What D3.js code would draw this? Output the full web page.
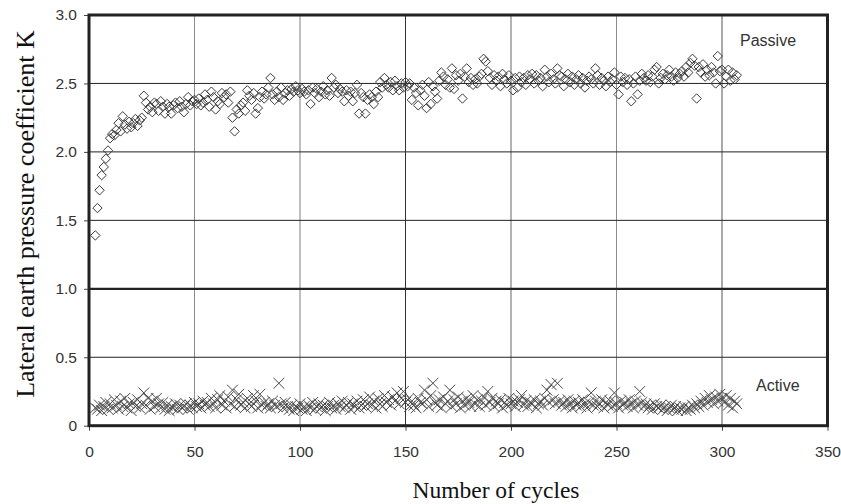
<!DOCTYPE html>
<html>
<head>
<meta charset="utf-8">
<script src="https://cdn.jsdelivr.net/npm/d3@7"></script>
<style>
  html, body { margin: 0; padding: 0; background: #fff; }
  svg { display: block; }
</style>
</head>
<body>
<svg id="chart" width="841" height="504"></svg>
<script>
// Lateral earth pressure coefficient K versus number of cycles
const firstCycle = 3;

// Passive K, one value per cycle starting at cycle 3
const passiveK = [
  1.39, 1.59, 1.72, 1.83, 1.89, 1.95, 2.01, 2.10, 2.13, 2.12,
  2.16, 2.21, 2.15, 2.26, 2.20, 2.17, 2.22, 2.18, 2.21, 2.24,
  2.19, 2.23, 2.25, 2.41, 2.36, 2.31, 2.33, 2.29, 2.36, 2.35,
  2.30, 2.37, 2.33, 2.28, 2.35, 2.33, 2.28, 2.34, 2.36, 2.32,
  2.37, 2.33, 2.29, 2.35, 2.40, 2.34, 2.37, 2.38, 2.35, 2.39,
  2.34, 2.36, 2.42, 2.38, 2.33, 2.44, 2.40, 2.31, 2.37, 2.35,
  2.43, 2.40, 2.42, 2.36, 2.44, 2.25, 2.15, 2.31, 2.28, 2.34,
  2.36, 2.30, 2.45, 2.41, 2.38, 2.43, 2.28, 2.32, 2.40, 2.44,
  2.39, 2.42, 2.47, 2.54, 2.42, 2.38, 2.44, 2.40, 2.47, 2.38,
  2.43, 2.45, 2.41, 2.46, 2.44, 2.48, 2.45, 2.43, 2.46, 2.44,
  2.42, 2.45, 2.35, 2.47, 2.43, 2.46, 2.40, 2.44, 2.48, 2.42,
  2.45, 2.41, 2.54, 2.47, 2.49, 2.43, 2.46, 2.44, 2.37, 2.45,
  2.41, 2.44, 2.37, 2.43, 2.49, 2.28, 2.43, 2.40, 2.28, 2.38,
  2.42, 2.40, 2.35, 2.44, 2.40, 2.51, 2.47, 2.54, 2.49, 2.47,
  2.51, 2.45, 2.52, 2.48, 2.45, 2.50, 2.47, 2.51, 2.48, 2.50,
  2.38, 2.47, 2.43, 2.34, 2.45, 2.49, 2.41, 2.32, 2.51, 2.35,
  2.48, 2.44, 2.39, 2.52, 2.58, 2.55, 2.49, 2.53, 2.47, 2.61,
  2.46, 2.56, 2.52, 2.57, 2.39, 2.55, 2.61, 2.51, 2.54, 2.49,
  2.53, 2.50, 2.55, 2.57, 2.68, 2.66, 2.59, 2.54, 2.49, 2.56,
  2.52, 2.55, 2.48, 2.57, 2.53, 2.50, 2.56, 2.52, 2.45, 2.54,
  2.47, 2.55, 2.51, 2.54, 2.49, 2.56, 2.53, 2.57, 2.50, 2.56,
  2.52, 2.54, 2.48, 2.60, 2.55, 2.51, 2.57, 2.53, 2.50, 2.61,
  2.56, 2.55, 2.48, 2.53, 2.57, 2.51, 2.55, 2.49, 2.53, 2.56,
  2.50, 2.54, 2.47, 2.52, 2.55, 2.53, 2.50, 2.61, 2.56, 2.49,
  2.54, 2.52, 2.48, 2.55, 2.51, 2.53, 2.58, 2.49, 2.42, 2.55,
  2.51, 2.54, 2.49, 2.53, 2.37, 2.50, 2.55, 2.42, 2.52, 2.57,
  2.54, 2.52, 2.56, 2.51, 2.55, 2.60, 2.62, 2.50, 2.54, 2.57,
  2.53, 2.56, 2.60, 2.55, 2.52, 2.58, 2.54, 2.57, 2.59, 2.55,
  2.62, 2.58, 2.65, 2.68, 2.63, 2.39, 2.62, 2.58, 2.64, 2.55,
  2.60, 2.56, 2.62, 2.58, 2.50, 2.70, 2.59, 2.60, 2.50, 2.55,
  2.60, 2.52, 2.58, 2.53, 2.56
];

// Active K, one value per cycle starting at cycle 3
const activeK = [
  0.13, 0.12, 0.15, 0.11, 0.14, 0.17, 0.12, 0.16, 0.13, 0.19,
  0.15, 0.12, 0.18, 0.14, 0.20, 0.13, 0.16, 0.11, 0.17, 0.14,
  0.19, 0.13, 0.16, 0.24, 0.15, 0.20, 0.12, 0.18, 0.14, 0.20,
  0.16, 0.13, 0.17, 0.12, 0.15, 0.11, 0.14, 0.13, 0.16, 0.12,
  0.15, 0.13, 0.14, 0.16, 0.12, 0.15, 0.13, 0.17, 0.14, 0.16,
  0.13, 0.18, 0.15, 0.17, 0.14, 0.20, 0.16, 0.13, 0.19, 0.22,
  0.15, 0.18, 0.13, 0.21, 0.16, 0.26, 0.14, 0.19, 0.23, 0.15,
  0.17, 0.13, 0.20, 0.16, 0.14, 0.22, 0.18, 0.13, 0.23, 0.15,
  0.17, 0.14, 0.16, 0.13, 0.18, 0.15, 0.14, 0.31, 0.16, 0.13,
  0.17, 0.14, 0.12, 0.15, 0.11, 0.14, 0.13, 0.16, 0.12, 0.14,
  0.11, 0.15, 0.13, 0.17, 0.12, 0.14, 0.16, 0.13, 0.15, 0.11,
  0.14, 0.17, 0.13, 0.15, 0.12, 0.16, 0.14, 0.18, 0.13, 0.15,
  0.17, 0.12, 0.16, 0.14, 0.18, 0.13, 0.15, 0.19, 0.14, 0.16,
  0.21, 0.15, 0.18, 0.13, 0.20, 0.16, 0.14, 0.22, 0.17, 0.19,
  0.15, 0.21, 0.18, 0.24, 0.16, 0.20, 0.25, 0.17, 0.19, 0.14,
  0.18, 0.15, 0.13, 0.20, 0.17, 0.16, 0.26, 0.19, 0.14, 0.22,
  0.31, 0.17, 0.15, 0.19, 0.13, 0.21, 0.16, 0.18, 0.26, 0.14,
  0.19, 0.16, 0.21, 0.13, 0.18, 0.15, 0.20, 0.17, 0.14, 0.22,
  0.16, 0.19, 0.14, 0.18, 0.21, 0.15, 0.25, 0.17, 0.20, 0.14,
  0.18, 0.16, 0.19, 0.13, 0.17, 0.15, 0.20, 0.16, 0.18, 0.14,
  0.17, 0.19, 0.22, 0.15, 0.18, 0.14, 0.17, 0.16, 0.19, 0.13,
  0.16, 0.18, 0.15, 0.20, 0.26, 0.17, 0.30, 0.19, 0.16, 0.31,
  0.18, 0.15, 0.17, 0.14, 0.19, 0.16, 0.13, 0.18, 0.15, 0.17,
  0.14, 0.19, 0.16, 0.13, 0.17, 0.24, 0.15, 0.18, 0.14, 0.16,
  0.19, 0.13, 0.17, 0.15, 0.18, 0.14, 0.24, 0.16, 0.13, 0.18,
  0.15, 0.17, 0.14, 0.19, 0.16, 0.13, 0.18, 0.15, 0.25, 0.17,
  0.14, 0.16, 0.13, 0.15, 0.12, 0.16, 0.14, 0.13, 0.15, 0.12,
  0.14, 0.11, 0.13, 0.15, 0.12, 0.14, 0.11, 0.13, 0.12, 0.14,
  0.11, 0.13, 0.12, 0.15, 0.13, 0.16, 0.14, 0.18, 0.15, 0.20,
  0.17, 0.22, 0.19, 0.16, 0.21, 0.18, 0.23, 0.20, 0.17, 0.22,
  0.15, 0.20, 0.13, 0.18, 0.16
];

const xTicks = [0, 50, 100, 150, 200, 250, 300, 350];
const yTicks = [0, 0.5, 1.0, 1.5, 2.0, 2.5, 3.0];
const yTickLabels = ["0", "0.5", "1.0", "1.5", "2.0", "2.5", "3.0"];

const svg = d3.select("#chart");
const plot = { left: 89, right: 827.5, top: 15, bottom: 425.7 };

const x = d3.scaleLinear().domain([0, 350]).range([plot.left, plot.right]);
const y = d3.scaleLinear().domain([0, 3]).range([plot.bottom, plot.top]);

const passive = passiveK.map((k, i) => ({ cycle: firstCycle + i, k }));
const active = activeK.map((k, i) => ({ cycle: firstCycle + i, k }));

// vertical grid lines
const vShade = { 50: "#8c8c8c", 100: "#808080", 150: "#333", 200: "#666", 250: "#8c8c8c", 300: "#555" };
svg.append("g").selectAll("line")
  .data(xTicks.filter(t => t > 0 && t < 350))
  .join("line")
  .attr("x1", d => x(d)).attr("x2", d => x(d))
  .attr("y1", plot.top).attr("y2", plot.bottom)
  .attr("stroke", d => vShade[d])
  .attr("stroke-width", 1);

// horizontal grid lines
svg.append("g").selectAll("line")
  .data(yTicks.filter(t => t > 0 && t < 3))
  .join("line")
  .attr("x1", plot.left).attr("x2", plot.right)
  .attr("y1", d => y(d)).attr("y2", d => y(d))
  .attr("stroke", "#222")
  .attr("stroke-width", d => d === 1 ? 2.2 : 1);

// axes with outward ticks
const xAxis = d3.axisBottom(x).tickValues(xTicks).tickSize(5).tickPadding(15)
  .tickFormat(d3.format("d"));
const gx = svg.append("g").attr("transform", `translate(0,${plot.bottom})`).call(xAxis);
gx.select(".domain").remove();
gx.selectAll("line").attr("stroke", "#444");
gx.selectAll("text")
  .attr("font-family", "Liberation Sans, Arial, sans-serif")
  .attr("font-size", 15.5).attr("fill", "#333");

const yAxis = d3.axisLeft(y).tickValues(yTicks).tickSize(5).tickPadding(7)
  .tickFormat((d, i) => yTickLabels[i]);
const gy = svg.append("g").attr("transform", `translate(${plot.left},0)`).call(yAxis);
gy.select(".domain").remove();
gy.selectAll("line").attr("stroke", "#444");
gy.selectAll("text")
  .attr("font-family", "Liberation Sans, Arial, sans-serif")
  .attr("font-size", 15.5).attr("fill", "#333");

// passive series: open diamonds
const diamond = "M0,-4.7L4.7,0L0,4.7L-4.7,0Z";
svg.append("g").selectAll("path")
  .data(passive)
  .join("path")
  .attr("d", diamond)
  .attr("transform", d => `translate(${x(d.cycle)},${y(d.k)})`)
  .attr("fill", "none")
  .attr("stroke", "#3a3a3a")
  .attr("stroke-width", 1);

// active series: crosses
const cross = "M-5.4,-5.4L5.4,5.4M-5.4,5.4L5.4,-5.4";
svg.append("g").selectAll("path")
  .data(active)
  .join("path")
  .attr("d", cross)
  .attr("transform", d => `translate(${x(d.cycle)},${y(d.k)})`)
  .attr("fill", "none")
  .attr("stroke", "#484848")
  .attr("stroke-width", 1);

// plot frame
svg.append("rect")
  .attr("x", plot.left).attr("y", plot.top)
  .attr("width", plot.right - plot.left).attr("height", plot.bottom - plot.top)
  .attr("fill", "none").attr("stroke", "#222").attr("stroke-width", 3);

// series labels
svg.append("text").attr("x", 740).attr("y", 46)
  .attr("font-family", "Liberation Sans, Arial, sans-serif").attr("font-size", 16)
  .attr("fill", "#333").text("Passive");
svg.append("text").attr("x", 756).attr("y", 391)
  .attr("font-family", "Liberation Sans, Arial, sans-serif").attr("font-size", 16)
  .attr("fill", "#333").text("Active");

// axis titles
svg.append("text")
  .attr("x", 496).attr("y", 498)
  .attr("text-anchor", "middle")
  .attr("font-family", "Liberation Serif, Times New Roman, serif")
  .attr("font-size", 23.5).attr("fill", "#111")
  .text("Number of cycles");

svg.append("text")
  .attr("transform", "translate(33.5,214) rotate(-90)")
  .attr("text-anchor", "middle")
  .attr("font-family", "Liberation Serif, Times New Roman, serif")
  .attr("font-size", 26).attr("fill", "#111")
  .text("Lateral earth pressure coefficient K");
</script>
</body>
</html>
